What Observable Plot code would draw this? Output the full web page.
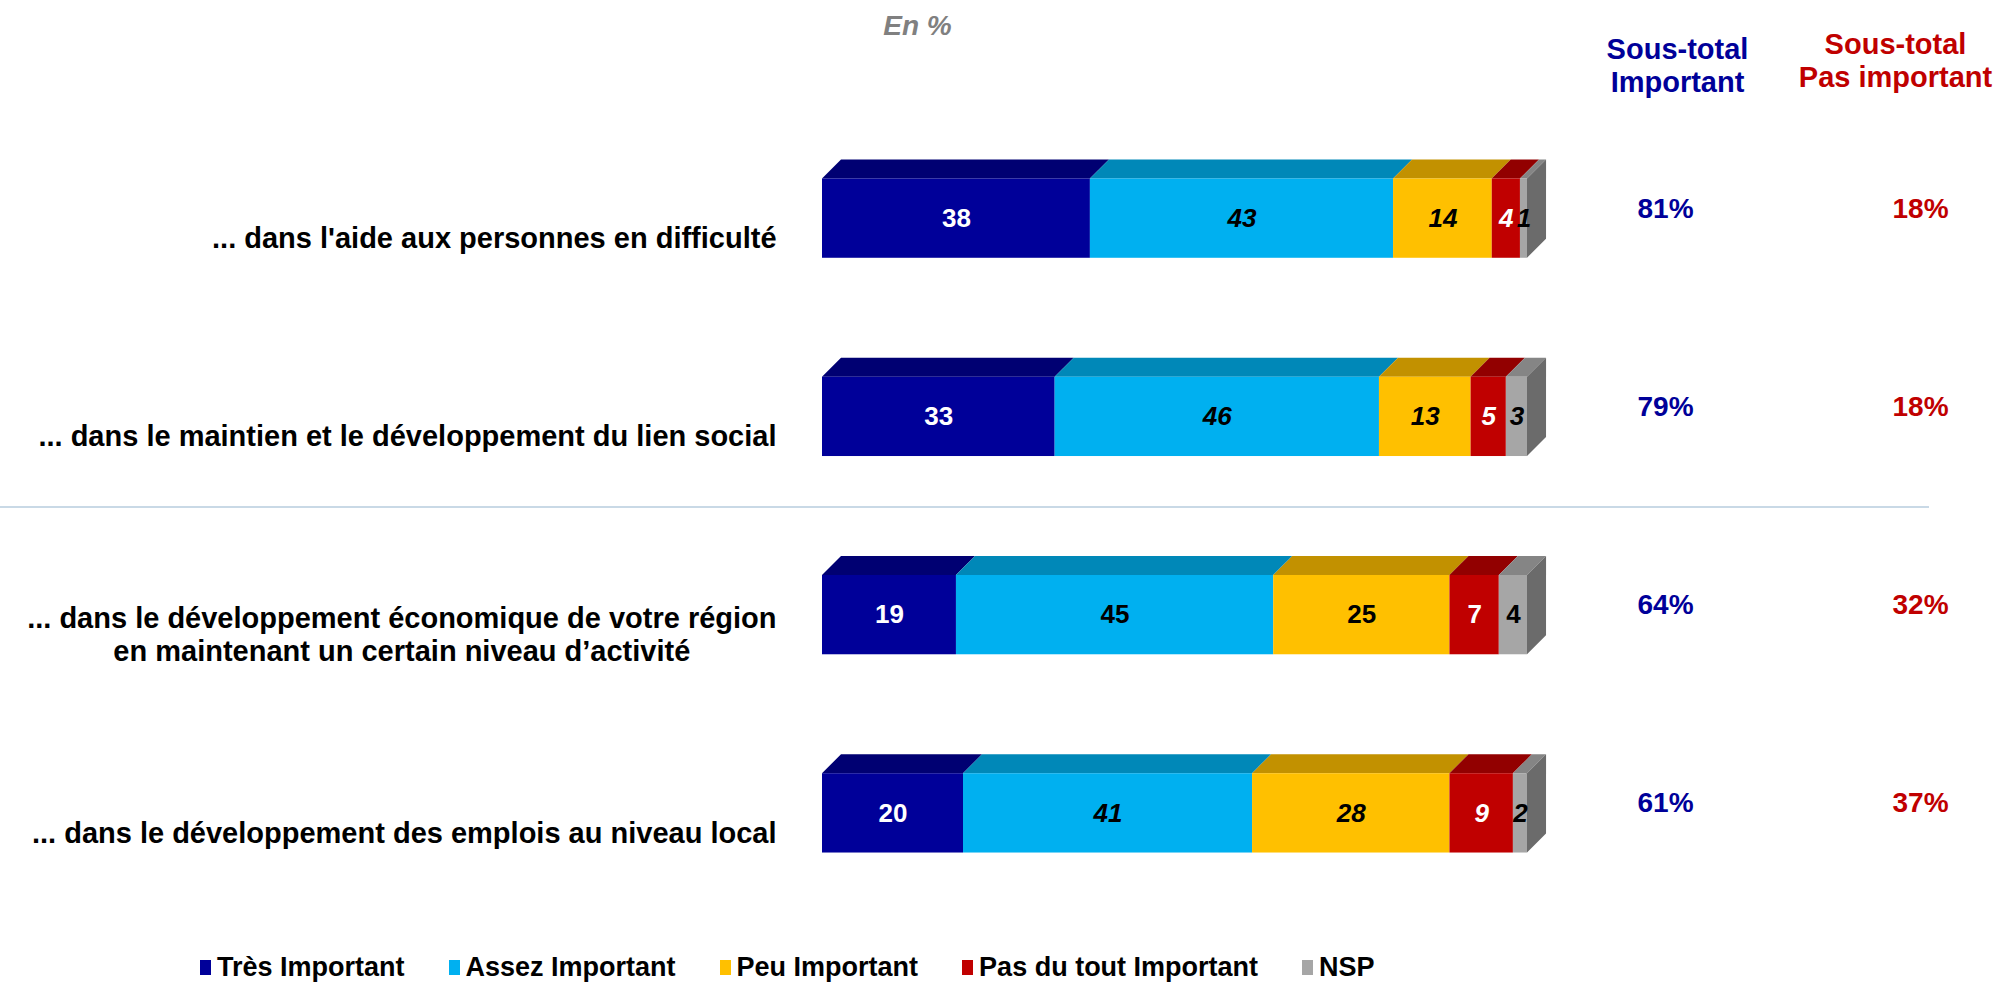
<!DOCTYPE html>
<html><head><meta charset="utf-8">
<script src="https://cdn.jsdelivr.net/npm/d3@7"></script>
<script src="https://cdn.jsdelivr.net/npm/@observablehq/plot@0.6"></script>
<style>
body{margin:0;background:#fff;font-family:'Liberation Sans',Arial,sans-serif;}
#legend{display:flex;align-items:center;height:39px;padding-left:200px;padding-top:6px;box-sizing:border-box;}
.item{display:flex;align-items:center;margin-right:44px;font-weight:bold;font-size:27px;color:#000;}
.sw{width:11px;height:15px;margin-right:6px;}
</style></head><body>
<div id="chart"></div><div id="legend"></div>
<script>
const categories = [
  "... dans l'aide aux personnes en difficulté",
  "... dans le maintien et le développement du lien social",
  "... dans le développement économique de votre région\nen maintenant un certain niveau d’activité",
  "... dans le développement des emplois au niveau local"
];
const responses = ["Très Important", "Assez Important", "Peu Important", "Pas du tout Important", "NSP"];
const tresImportant = [38, 33, 19, 20];
const assezImportant = [43, 46, 45, 41];
const peuImportant = [14, 13, 25, 28];
const pasDuToutImportant = [4, 5, 7, 9];
const nsp = [1, 3, 4, 2];
const sousTotalImportant = [81, 79, 64, 61];
const sousTotalPasImportant = [18, 18, 32, 37];
const headerImportant = "Sous-total\nImportant";
const headerPasImportant = "Sous-total\nPas important";
const unitLabel = "En %";

const series = [tresImportant, assezImportant, peuImportant, pasDuToutImportant, nsp];
const frontColors = ["#000099", "#00b0f0", "#ffc000", "#c00000", "#a6a6a6"];
const topColors = ["#000072", "#0088b8", "#c29100", "#920000", "#858585"];
const sideColor = "#6b6b6b";
const labelColors = ["#ffffff", "#000000", "#000000", "#ffffff", "#000000"];
const HALF = 0.2, DY = 0.096, DX = 2.7;

const segs = [];
categories.forEach((c, r) => {
  let s = 0;
  series.forEach((vals, k) => {
    const v = vals[r];
    segs.push({r, k, v, x1: s, x2: s + v, italic: r !== 2 && k > 0});
    s += v;
  });
});
const tops = segs.flatMap(d => [
  {id: d.r * 10 + d.k, k: d.k, y: d.r - HALF, x1: d.x1, x2: d.x2},
  {id: d.r * 10 + d.k, k: d.k, y: d.r - HALF - DY, x1: d.x1 + DX, x2: d.x2 + DX}
]);
const sides = categories.flatMap((c, r) => {
  const end = segs.filter(d => d.r === r).at(-1).x2;
  return [
    {r, x: end, ya: r + HALF, yb: r - HALF},
    {r, x: end + DX, ya: r + HALF - DY, yb: r - HALF - DY}
  ];
});

const FONT = "'Liberation Sans', Arial, sans-serif";
const ctx = document.createElement("canvas").getContext("2d");
ctx.font = "bold 29px " + FONT;
const labelMarks = categories.map((c, r) => {
  const w = Math.max(...c.split("\n").map(l => ctx.measureText(l).width));
  return Plot.text([{r, c}], {
    x: () => 0, y: "r", text: "c", textAnchor: "middle", dx: -46 - w / 2, dy: 19,
    lineHeight: 1.14, fontSize: 29, fontWeight: "bold", fill: "#000"
  });
});

const rows = categories.map((c, r) => ({r, imp: sousTotalImportant[r] + "%", pas: sousTotalPasImportant[r] + "%"}));

const chart = Plot.plot({
  width: 1999, height: 945, margin: 0,
  x: {domain: [0, 100], range: [822, 1527], axis: null},
  y: {domain: [-0.5, 3.5], range: [119, 912], axis: null},
  color: {type: "identity"},
  style: {fontFamily: FONT, background: "#fff", overflow: "visible"},
  marks: [
    Plot.ruleY([1.5], {dy: -9, insetRight: 70, stroke: "#c9d9e6", strokeWidth: 2}),
    Plot.area(tops, {x1: "x1", x2: "x2", y1: "y", y2: "y", z: "id", fill: d => topColors[d.k]}),
    Plot.rect(segs, {x1: "x1", x2: "x2", y1: d => d.r - HALF, y2: d => d.r + HALF, fill: d => frontColors[d.k]}),
    Plot.area(sides, {x1: "x", x2: "x", y1: "ya", y2: "yb", z: "r", fill: sideColor}),
    Plot.text(segs.filter(d => !d.italic), {x: d => (d.x1 + d.x2) / 2, y: "r", text: d => String(d.v), fill: d => labelColors[d.k], fontSize: 26, fontWeight: "bold"}),
    Plot.text(segs.filter(d => d.italic), {x: d => (d.x1 + d.x2) / 2, y: "r", text: d => String(d.v), fill: d => labelColors[d.k], fontSize: 26, fontWeight: "bold", fontStyle: "italic"}),
    ...labelMarks,
    Plot.text(rows, {y: "r", frameAnchor: "left", dx: 1665, dy: -10, text: "imp", fill: "#000099", fontSize: 28, fontWeight: "bold", textAnchor: "middle"}),
    Plot.text(rows, {y: "r", frameAnchor: "left", dx: 1920, dy: -10, text: "pas", fill: "#c00000", fontSize: 28, fontWeight: "bold", textAnchor: "middle"}),
    Plot.text([headerImportant], {frameAnchor: "top-left", dx: 1677, dy: 64, text: d => d, lineAnchor: "middle", lineHeight: 1.14, fill: "#000099", fontSize: 29, fontWeight: "bold", textAnchor: "middle"}),
    Plot.text([headerPasImportant], {frameAnchor: "top-left", dx: 1895, dy: 59, text: d => d, lineAnchor: "middle", lineHeight: 1.14, fill: "#c00000", fontSize: 29, fontWeight: "bold", textAnchor: "middle"}),
    Plot.text([unitLabel], {frameAnchor: "top-left", dx: 917, dy: 26, text: d => d, lineAnchor: "middle", fill: "#808080", fontSize: 28, fontWeight: "bold", fontStyle: "italic", textAnchor: "middle"})
  ]
});
document.getElementById("chart").appendChild(chart);

const legend = document.getElementById("legend");
responses.forEach((name, k) => {
  const item = document.createElement("div");
  item.className = "item";
  const sw = document.createElement("span");
  sw.className = "sw";
  sw.style.background = frontColors[k];
  item.appendChild(sw);
  item.appendChild(document.createTextNode(name));
  legend.appendChild(item);
});
</script></body></html>
